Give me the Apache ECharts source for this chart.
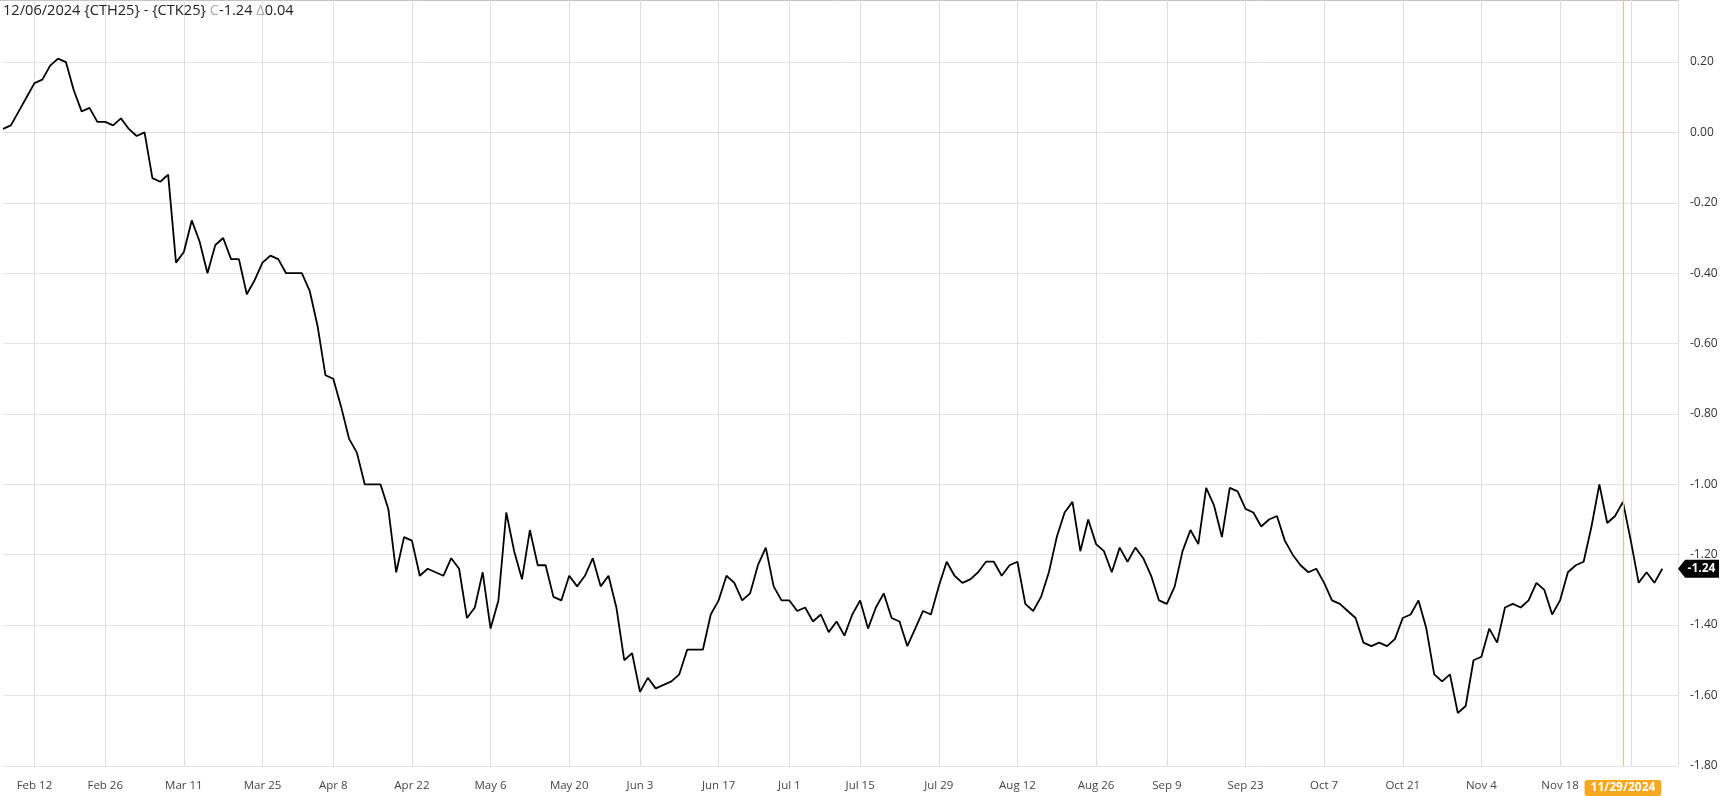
<!DOCTYPE html>
<html>
<head>
<meta charset="utf-8">
<title>CTH25 - CTK25</title>
<script src="https://cdn.jsdelivr.net/npm/echarts@6.0.0/dist/echarts.min.js"></script>
<style>
    html, body { margin: 0; padding: 0; background: #fff; }
    #main { width: 1725px; height: 796px; }
</style>
</head>
<body>
<div id="main"></div>
<script>
    // spread close values, one per trading day (Feb 6 .. Dec 6 2024)
    const spreadValues = [
        0.01, 0.02, 0.06, 0.10, 0.14, 0.15, 0.19, 0.21, 0.20, 0.12,
        0.06, 0.07, 0.03, 0.03, 0.02, 0.04, 0.01, -0.01, 0.00, -0.13,
        -0.14, -0.12, -0.37, -0.34, -0.25, -0.31, -0.40, -0.32, -0.30, -0.36,
        -0.36, -0.46, -0.42, -0.37, -0.35, -0.36, -0.40, -0.40, -0.40, -0.45,
        -0.55, -0.69, -0.70, -0.78, -0.87, -0.91, -1.00, -1.00, -1.00, -1.07,
        -1.25, -1.15, -1.16, -1.26, -1.24, -1.25, -1.26, -1.21, -1.24, -1.38,
        -1.35, -1.25, -1.41, -1.33, -1.08, -1.19, -1.27, -1.13, -1.23, -1.23,
        -1.32, -1.33, -1.26, -1.29, -1.26, -1.21, -1.29, -1.26, -1.35, -1.50,
        -1.48, -1.59, -1.55, -1.58, -1.57, -1.56, -1.54, -1.47, -1.47, -1.47,
        -1.37, -1.33, -1.26, -1.28, -1.33, -1.31, -1.23, -1.18, -1.29, -1.33,
        -1.33, -1.36, -1.35, -1.39, -1.37, -1.42, -1.39, -1.43, -1.37, -1.33,
        -1.41, -1.35, -1.31, -1.38, -1.39, -1.46, -1.41, -1.36, -1.37, -1.29,
        -1.22, -1.26, -1.28, -1.27, -1.25, -1.22, -1.22, -1.26, -1.23, -1.22,
        -1.34, -1.36, -1.32, -1.25, -1.15, -1.08, -1.05, -1.19, -1.10, -1.17,
        -1.19, -1.25, -1.18, -1.22, -1.18, -1.21, -1.26, -1.33, -1.34, -1.29,
        -1.19, -1.13, -1.17, -1.01, -1.06, -1.15, -1.01, -1.02, -1.07, -1.08,
        -1.12, -1.10, -1.09, -1.16, -1.20, -1.23, -1.25, -1.24, -1.28, -1.33,
        -1.34, -1.36, -1.38, -1.45, -1.46, -1.45, -1.46, -1.44, -1.38, -1.37,
        -1.33, -1.41, -1.54, -1.56, -1.54, -1.65, -1.63, -1.50, -1.49, -1.41,
        -1.45, -1.35, -1.34, -1.35, -1.33, -1.28, -1.30, -1.37, -1.33, -1.25,
        -1.23, -1.22, -1.12, -1.00, -1.11, -1.09, -1.05, -1.16, -1.28, -1.25,
        -1.28, -1.24
    ];

    // exchange holidays skipped in the trading calendar
    const holidays = ['2024-02-19', '2024-03-29', '2024-05-27', '2024-06-19',
        '2024-07-04', '2024-09-02', '2024-11-28'];
    const firstDay = '2024-02-06';
    const lastAxisDay = '2024-12-10';   // two empty days of right padding

    // every other Monday gets a grid line and a label
    const tickDates = ['2024-02-12', '2024-02-26', '2024-03-11', '2024-03-25', '2024-04-08',
        '2024-04-22', '2024-05-06', '2024-05-20', '2024-06-03', '2024-06-17', '2024-07-01',
        '2024-07-15', '2024-07-29', '2024-08-12', '2024-08-26', '2024-09-09', '2024-09-23',
        '2024-10-07', '2024-10-21', '2024-11-04', '2024-11-18', '2024-12-02'];
    const cursorDate = '2024-11-29';
    const monthNames = ['Jan', 'Feb', 'Mar', 'Apr', 'May', 'Jun', 'Jul', 'Aug', 'Sep', 'Oct', 'Nov', 'Dec'];

    // trading day categories
    let categories = [];
    let d = new Date(firstDay + 'T00:00:00Z');
    const end = new Date(lastAxisDay + 'T00:00:00Z');
    while (d <= end) {
        let key = d.toISOString().slice(0, 10);
        let wd = d.getUTCDay();
        if (wd !== 0 && wd !== 6 && holidays.indexOf(key) < 0) categories.push(key);
        d = new Date(d.getTime() + 86400000);
    }

    const tickSet = new Set(tickDates);
    const isTick = function (idx, val) { return tickSet.has(categories[idx]); };

    const lastVal = spreadValues[spreadValues.length - 1];
    const change = lastVal - spreadValues[spreadValues.length - 2];
    const fmt2 = function (v) { return Math.abs(v) < 1e-9 ? '0.00' : v.toFixed(2); };

    const gridColor = '#dedede';

    let myChart = echarts.init(document.getElementById('main'));
    myChart.setOption({
        animation: false,
        textStyle: { fontFamily: 'Open Sans' },
        title: {
            left: 3,
            top: 3,
            padding: 0,
            text: '12/06/2024 {CTH25} - {CTK25} {g|C}' + fmt2(lastVal) + ' {g|\u0394}' + fmt2(change),
            textStyle: {
                fontSize: 14.6,
                fontWeight: 'normal',
                color: '#222',
                fontFamily: 'Open Sans',
                rich: {
                    g: { fontSize: 14.6, color: '#aaa', fontFamily: 'Open Sans' }
                }
            }
        },
        graphic: [{
            type: 'line',
            shape: { x1: 0, y1: 0.5, x2: 1679, y2: 0.5 },
            style: { stroke: '#c4c4c4', lineWidth: 1 },
            silent: true
        }],
        grid: {
            left: 3,
            right: 47,
            top: -8.3,
            bottom: 30.2,
            containLabel: false,
            outerBoundsMode: 'none'
        },
        xAxis: {
            type: 'category',
            data: categories,
            boundaryGap: false,
            offset: 4,
            axisLine: { show: true, lineStyle: { color: gridColor } },
            axisTick: { show: true, interval: isTick, length: 8, lineStyle: { color: gridColor } },
            splitLine: { show: true, interval: isTick, lineStyle: { color: gridColor, width: 1 } },
            axisLabel: {
                interval: isTick,
                margin: 10,
                fontSize: 11.5,
                color: '#444',
                fontFamily: 'Open Sans',
                formatter: function (v) {
                    let p = v.split('-');
                    return monthNames[+p[1] - 1] + ' ' + (+p[2]);
                }
            },
            axisPointer: {
                show: true,
                type: 'line',
                status: 'show',
                value: categories.indexOf(cursorDate),
                triggerTooltip: false,
                lineStyle: { color: '#f7c35c', width: 1.2, type: 'solid' },
                label: {
                    show: true,
                    margin: 11,
                    padding: [2, 6],
                    backgroundColor: '#f6a81f',
                    color: '#fff',
                    fontWeight: 'bold',
                    fontSize: 12,
                    fontFamily: 'Open Sans',
                    formatter: function () {
                        let p = cursorDate.split('-');
                        return p[1] + '/' + p[2] + '/' + p[0];
                    }
                }
            }
        },
        yAxis: {
            type: 'value',
            position: 'right',
            min: -1.8,
            max: 0.4,
            interval: 0.2,
            axisLine: { show: true, lineStyle: { color: gridColor } },
            axisTick: { show: false },
            splitLine: { show: true, lineStyle: { color: '#e4e4e4', width: 1 } },
            axisLabel: {
                margin: 12,
                fontSize: 12,
                color: '#333',
                fontFamily: 'Open Sans',
                showMaxLabel: false,
                formatter: fmt2
            }
        },
        series: [{
            name: 'CTH25 - CTK25',
            type: 'line',
            data: spreadValues,
            symbol: 'none',
            showSymbol: false,
            lineStyle: { color: '#000', width: 1.8 },
            markPoint: {
                silent: true,
                symbol: 'path://M0,9 L8,0 L46,0 L46,18 L8,18 Z',
                symbolSize: [41, 18],
                symbolOffset: [20.5, 0],
                symbolKeepAspect: false,
                itemStyle: { color: '#000' },
                label: {
                    show: true,
                    position: 'inside',
                    offset: [3, 0],
                    color: '#fff',
                    fontWeight: 'bold',
                    fontSize: 12,
                    fontFamily: 'Open Sans',
                    formatter: function (p) { return fmt2(p.value); }
                },
                data: [{ coord: [categories[categories.length - 1], lastVal], value: lastVal }]
            }
        }]
    });
</script>
</body>
</html>
